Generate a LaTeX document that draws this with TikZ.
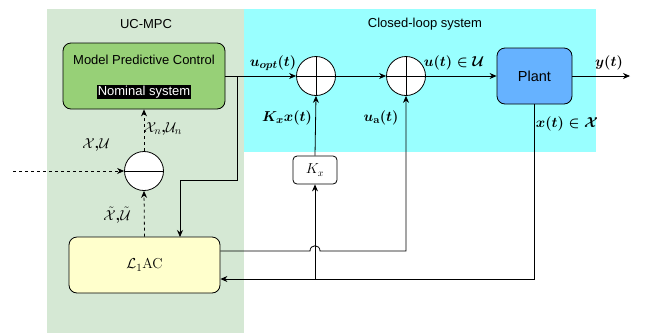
\documentclass[tikz,border=0pt]{standalone}
\usepackage{amsmath,amssymb}
\usepackage[no-math]{fontspec}
\setmainfont{Liberation Sans}
\usetikzlibrary{arrows.meta,calc}
\definecolor{bggreen}{HTML}{D5E8D4}
\definecolor{bgcyan}{HTML}{99FFFF}
\definecolor{mpcgreen}{HTML}{97D077}
\definecolor{plantblue}{HTML}{66B2FF}
\definecolor{acyellow}{HTML}{FFFFCC}
\newcommand{\bcomma}{{\boldsymbol{,}}}
\begin{document}
\begin{tikzpicture}[x=1pt,y=-1pt,
  line width=0.8pt,
  arr/.style={-{Stealth[length=7pt,width=6pt]}},
  dsh/.style={dash pattern=on 3pt off 3pt},
  blk/.style={draw, rounded corners=8pt, line width=0.8pt},
  sumnode/.style={draw, circle, fill=white, minimum size=39pt, inner sep=0pt},
  txt/.style={font=\fontsize{13}{15}\selectfont, inner sep=0pt},
  mlab/.style={font=\fontsize{15}{17}\selectfont\boldmath, inner sep=0pt},
  slab/.style={font=\fontsize{15}{17}\selectfont, inner sep=0pt}]
\useasboundingbox (0,0) rectangle (648,333);
% backgrounds
\fill[bggreen] (47,9) rectangle (244,333);
\fill[bgcyan] (244,9) rectangle (596,152);
\node[txt] (tucmpc) at (146,24) {UC-MPC};
\node[txt] (tcls) at (425,24) {Closed-loop system};
% blocks
\node[blk, fill=mpcgreen, minimum width=162pt, minimum height=66pt] (mpc) at (144,76) {};
\node[txt] (mpct) at (144,60) {Model Predictive Control};
\node[txt, fill=black, text=white, inner sep=1pt] (nom) at (144,92) {Nominal system};
\node[blk, fill=plantblue, minimum width=75pt, minimum height=56pt] (plant) at (534.5,76) {};
\node[font=\fontsize{14.5}{16}\selectfont] (plantt) at (534.5,76) {Plant};
\node[blk, fill=acyellow, minimum width=151pt, minimum height=56pt] (l1) at (144.5,265) {};
\node[font=\fontsize{15}{17}\selectfont] (l1t) at (144.5,265) {$\mathcal{L}_1\mathrm{AC}$};
\node[draw, rounded corners=4pt, fill=white, minimum width=44pt, minimum height=28pt, font=\fontsize{14}{16}\selectfont, inner sep=0pt] (kx) at (315,170) {$K_x$};
% summing junctions
\node[sumnode] (s1) at (316,76) {};
\draw (s1.north) -- (s1.south) (s1.west) -- (s1.east);
\node[sumnode] (s2) at (406,76) {};
\draw (s2.north) -- (s2.south) (s2.west) -- (s2.east);
\node[sumnode] (c) at (144,171) {};
\draw (c.west) -- (c.east);
% coordinates
\coordinate (br) at (237,76);
\coordinate (in) at (13,171);
\coordinate (yout) at (630,76);
% connectors
\draw[arr] (mpc.east) -- (s1.west);
\draw[arr] (br) -- (237,180) -- (180,180) -- (180,237);
\draw[arr] (s1.east) -- (s2.west);
\draw[arr] (s2.east) -- (plant.west);
\draw[arr] (plant.east) -- (yout);
\draw[arr] (kx.north) -- (s1.south);
\draw[arr] (plant.south) -- (534.5,279) -- (l1.east |- 0,279);
\draw[arr] (315,279) -- (kx.south);
\draw[arr] (l1.east |- 0,251) -- (310,251) .. controls (310,244) and (320,244) .. (320,251) -- (406,251) -- (s2.south);
\draw[arr, dsh] (in) -- (c.west);
\draw[arr, dsh] (c.north) -- (mpc.south);
\draw[arr, dsh] (l1.north) -- (c.south);
% labels
\node[mlab] (luopt) at (273,63) {$u_{opt}(t)$};
\node[mlab] (lu) at (454,63) {$u(t)\in\mathcal{U}$};
\node[mlab] (ly) at (609,63) {$y(t)$};
\node[mlab] (lkx) at (287,118) {$K_x x(t)$};
\node[mlab] (lua) at (381,118) {$u_{\mathrm{a}}(t)$};
\node[mlab] (lx) at (567,124) {$x(t)\in\mathcal{X}$};
\node[slab] (lxu) at (96,145) {$\mathcal{X}\bcomma\mathcal{U}$};
\node[slab] (lxun) at (163,129) {$\mathcal{X}_n\bcomma\mathcal{U}_n$};
\node[slab] (lxut) at (117,215) {$\tilde{\mathcal{X}}\bcomma\tilde{\mathcal{U}}$};
\end{tikzpicture}
\end{document}
